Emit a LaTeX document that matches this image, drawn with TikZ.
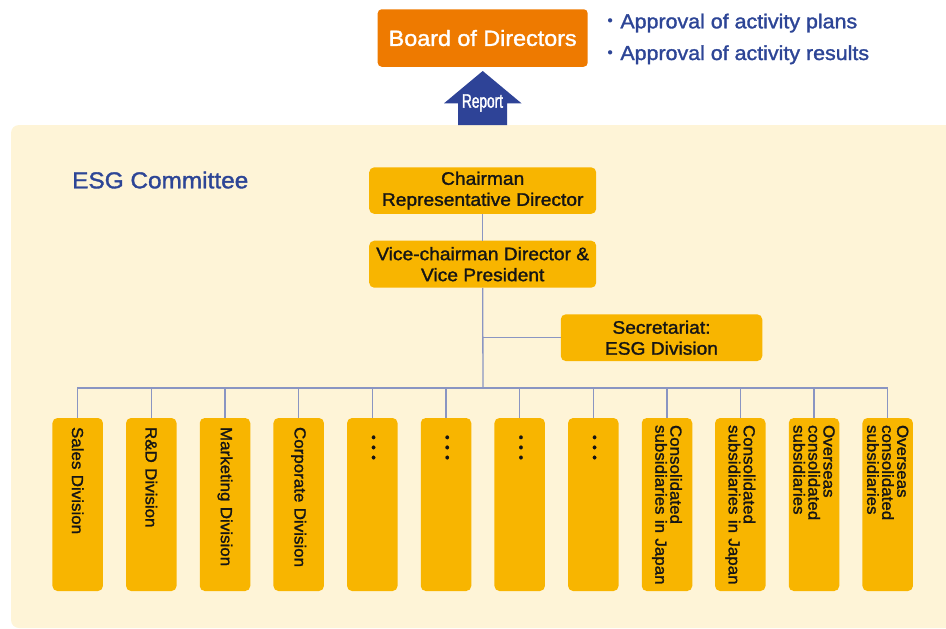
\documentclass[tikz,border=0pt]{standalone}
\usepackage{fontspec}
\setmainfont[FakeStretch=1.06,FakeBold=1.5]{Liberation Sans}
\newfontfamily\condfont[FakeStretch=0.7,FakeBold=1.5]{Liberation Sans}
\newfontfamily\cjk{Noto Sans CJK JP}
\definecolor{boardorange}{HTML}{EE7A00}
\definecolor{boxyellow}{HTML}{F8B500}
\definecolor{panelcream}{HTML}{FEF4D7}
\definecolor{textblue}{HTML}{2D4596}
\definecolor{arrowblue}{HTML}{2E4397}
\definecolor{linecol}{HTML}{8A95C2}
\definecolor{boxtext}{HTML}{151515}
\tikzset{
  topbox/.style={fill=boxyellow, rounded corners=5pt, text=boxtext, align=center,
    font=\fontsize{18.1}{21}\selectfont, inner sep=0pt},
  divbox/.style={fill=boxyellow, rounded corners=5pt, text=boxtext, rotate=-90,
    minimum width=173pt, minimum height=50.5pt, text width=159pt, align=left,
    inner xsep=7pt, inner ysep=0pt, font=\fontsize{16}{15}\selectfont},
  conn/.style={draw=linecol, line width=1.3pt},
}
\newcommand{\vdotsmark}{\hspace*{10pt}{\fontsize{12.8}{15}\selectfont • • •}}
\begin{document}
\begin{tikzpicture}[x=1pt,y=-1pt]
\useasboundingbox (0,0) rectangle (946,629);
\clip (0,0) rectangle (946,629);
% panel
\fill[panelcream, rounded corners=8pt] (11,125) rectangle (990,628);
% board
\node[fill=boardorange, rounded corners=4pt, text=white, minimum width=210pt,
  minimum height=57.5pt, inner sep=0pt, font=\fontsize{22}{26}\selectfont]
  (board) at (482.7,38) {Board of Directors};
\node[anchor=base west, inner sep=0pt, text=textblue, font=\fontsize{20.2}{24}\selectfont]
  (plans) at (600,28.3) {{\cjk ・}Approval of activity plans};
\node[anchor=base west, inner sep=0pt, text=textblue, font=\fontsize{20.2}{24}\selectfont]
  (results) at (600,60) {{\cjk ・}Approval of activity results};
% report arrow
\fill[arrowblue] (458,125) -- (458,103.3) -- (444,103.3) -- (482.7,71)
  -- (521.5,103.3) -- (507,103.3) -- (507,125) -- cycle;
\node[anchor=base, inner sep=0pt, text=white, font=\condfont\fontsize{19.5}{22}\selectfont]
  (report) at (482.5,107.7) {Report};
% committee title
\node[anchor=base west, inner sep=0pt, text=textblue, font=\fontsize{23}{27}\selectfont]
  (esg) at (72,188.3) {ESG Committee};
% top boxes
\node[topbox, minimum width=227pt, minimum height=46.5pt] (chair) at (482.7,190.6)
  {Chairman\\Representative Director};
\node[topbox, minimum width=227pt, minimum height=47pt] (vice) at (482.7,264.2)
  {Vice-chairman Director \&\\Vice President};
\node[topbox, minimum width=201.5pt, minimum height=46.7pt] (sec) at (661.5,337.7)
  {Secretariat:\\ESG Division};
\coordinate (bus) at (483,388);
% division boxes
\node[divbox] (d1) at (77.7,504.5) {\hspace*{2pt}Sales Division};
\node[divbox] (d2) at (151.3,504.5) {\hspace*{2pt}R\&D Division};
\node[divbox] (d3) at (225,504.5) {\hspace*{2pt}Marketing Division};
\node[divbox] (d4) at (298.7,504.5) {\hspace*{2pt}Corporate Division};
\node[divbox] (d5) at (372.3,504.5) {\vdotsmark};
\node[divbox] (d6) at (446,504.5) {\vdotsmark};
\node[divbox] (d7) at (519.7,504.5) {\vdotsmark};
\node[divbox] (d8) at (593.3,504.5) {\vdotsmark};
\node[divbox] (d9) at (667,504.5) {Consolidated\\subsidiaries~in~Japan};
\node[divbox] (d10) at (740.3,504.5) {Consolidated\\subsidiaries~in~Japan};
\node[divbox] (d11) at (814,504.5) {Overseas\\consolidated\\subsidiaries};
\node[divbox] (d12) at (887.7,504.5) {Overseas\\consolidated\\subsidiaries};
% connectors
\draw[conn] (chair.south) -- (vice.north);
\draw[conn] (vice.south) -- (bus);
\draw[conn] (sec.west) -- (sec.west -| vice.south);
\draw[conn] (d1.west) -- (d1.west |- bus) -- (d12.west |- bus) -- (d12.west);
\foreach \i in {2,...,11} { \draw[conn] (d\i.west) -- (d\i.west |- bus); }
\end{tikzpicture}
\end{document}
